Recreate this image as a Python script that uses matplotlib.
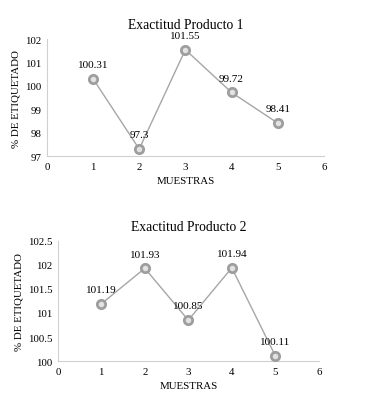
import matplotlib.pyplot as plt

plt.rcParams['font.family'] = ['Liberation Serif', 'DejaVu Serif']

muestras = [1, 2, 3, 4, 5]
producto1 = [100.31, 97.3, 101.55, 99.72, 98.41]
producto2 = [101.19, 101.93, 100.85, 101.94, 100.11]
labels1 = ["100.31", "97.3", "101.55", "99.72", "98.41"]
labels2 = ["101.19", "101.93", "100.85", "101.94", "100.11"]

fig = plt.figure(figsize=(3.66, 4.10), dpi=100)
fig.patch.set_facecolor("white")

def draw(ax, y, labels, title, ylim, yticks, yticklabels):
    ax.plot(muestras, y, color="#a6a6a6", lw=1.0, marker="o", ms=6,
            mfc="#e2e2e2", mec="#9e9e9e", mew=2.0, zorder=3)
    for xi, yi, lab in zip(muestras, y, labels):
        ax.annotate(lab, (xi, yi), xytext=(0, 7), textcoords="offset points",
                    ha="center", va="bottom", fontsize=8)
    ax.set_xlim(0, 6)
    ax.set_ylim(*ylim)
    ax.set_xticks(range(0, 7))
    ax.set_yticks(yticks)
    ax.set_yticklabels(yticklabels)
    ax.tick_params(length=0, labelsize=7.8, pad=4)
    for s in ["top", "right"]:
        ax.spines[s].set_visible(False)
    for s in ["left", "bottom"]:
        ax.spines[s].set_color("#d0d0d0")
        ax.spines[s].set_linewidth(0.8)
    ax.set_title(title, fontsize=9.8, pad=8)
    ax.set_xlabel("MUESTRAS", fontsize=7.8, labelpad=4)
    ax.set_ylabel("% DE ETIQUETADO", fontsize=7.8, labelpad=3)

ax1 = fig.add_axes([0.128, 0.617, 0.757, 0.285])
draw(ax1, producto1, labels1, "Exactitud Producto 1", (97, 102),
     [97, 98, 99, 100, 101, 102], ["97", "98", "99", "100", "101", "102"])

ax2 = fig.add_axes([0.158, 0.117, 0.713, 0.293])
draw(ax2, producto2, labels2, "Exactitud Producto 2", (100, 102.5),
     [100, 100.5, 101, 101.5, 102, 102.5], ["100", "100.5", "101", "101.5", "102", "102.5"])

fig.savefig("out.png", dpi=100, facecolor="white")
